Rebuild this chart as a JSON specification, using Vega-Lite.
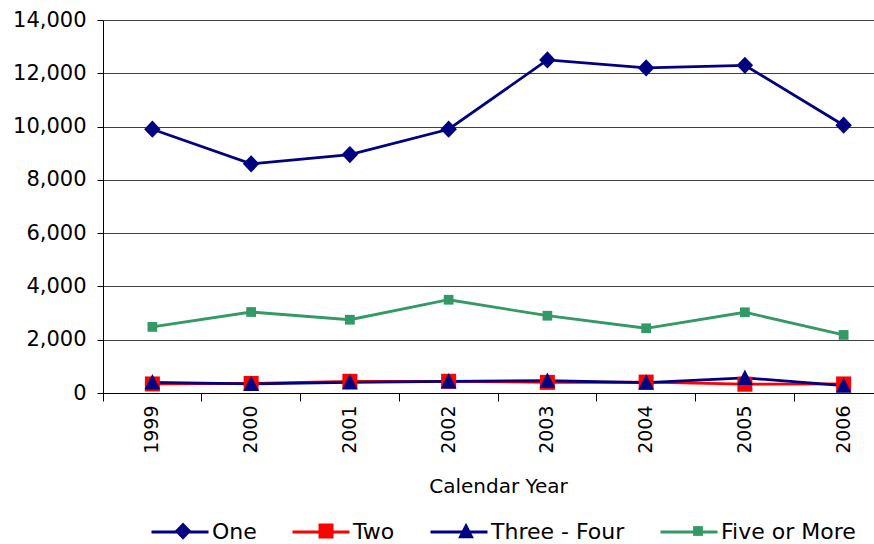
{
  "$schema": "https://vega.github.io/schema/vega-lite/v6.json",
  "width": 771,
  "height": 373,
  "autosize": "none",
  "padding": {"left": 103, "top": 20, "right": 0, "bottom": 151},
  "background": "white",
  "config": {"view": {"stroke": null}, "font": "DejaVu Sans"},
  "data": {"values": [
    {"year": "1999", "series": "One", "value": 9900},
    {"year": "2000", "series": "One", "value": 8600},
    {"year": "2001", "series": "One", "value": 8950},
    {"year": "2002", "series": "One", "value": 9900},
    {"year": "2003", "series": "One", "value": 12500},
    {"year": "2004", "series": "One", "value": 12200},
    {"year": "2005", "series": "One", "value": 12300},
    {"year": "2006", "series": "One", "value": 10050},
    {"year": "1999", "series": "Two", "value": 340},
    {"year": "2000", "series": "Two", "value": 360},
    {"year": "2001", "series": "Two", "value": 440},
    {"year": "2002", "series": "Two", "value": 440},
    {"year": "2003", "series": "Two", "value": 400},
    {"year": "2004", "series": "Two", "value": 410},
    {"year": "2005", "series": "Two", "value": 330},
    {"year": "2006", "series": "Two", "value": 340},
    {"year": "1999", "series": "Three - Four", "value": 400},
    {"year": "2000", "series": "Three - Four", "value": 340},
    {"year": "2001", "series": "Three - Four", "value": 400},
    {"year": "2002", "series": "Three - Four", "value": 440},
    {"year": "2003", "series": "Three - Four", "value": 460},
    {"year": "2004", "series": "Three - Four", "value": 390},
    {"year": "2005", "series": "Three - Four", "value": 570},
    {"year": "2006", "series": "Three - Four", "value": 275},
    {"year": "1999", "series": "Five or More", "value": 2480},
    {"year": "2000", "series": "Five or More", "value": 3040},
    {"year": "2001", "series": "Five or More", "value": 2750},
    {"year": "2002", "series": "Five or More", "value": 3500},
    {"year": "2003", "series": "Five or More", "value": 2900},
    {"year": "2004", "series": "Five or More", "value": 2430},
    {"year": "2005", "series": "Five or More", "value": 3030},
    {"year": "2006", "series": "Five or More", "value": 2180}
  ]},
  "transform": [{"calculate": "datum.series", "as": "Series"}],
  "encoding": {
    "x": {
      "field": "year", "type": "ordinal",
      "scale": {"type": "band", "range": [0, 790], "paddingInner": 0, "paddingOuter": 0},
      "axis": {
        "bandPosition": 0, "labelOffset": 0, "labelAngle": 270, "labelAlign": "right", "labelBaseline": "middle",
        "labelFontSize": 19, "labelColor": "black", "labelPadding": 4, "tickSize": 8, "tickColor": "black",
        "domainColor": "black", "domainWidth": 1, "grid": false,
        "title": "Calendar Year", "titleFontSize": 20, "titleFontWeight": "normal", "titleColor": "black", "titlePadding": 23
      }
    },
    "y": {
      "field": "value", "type": "quantitative",
      "scale": {"domain": [0, 14000], "nice": false},
      "axis": {
        "values": [0, 2000, 4000, 6000, 8000, 10000, 12000, 14000], "format": ",d",
        "labelFontSize": 21, "labelColor": "black", "labelPadding": 11, "tickSize": 6, "tickColor": "black",
        "domainColor": "black", "grid": true, "gridColor": "#404040", "gridWidth": 1, "title": null
      }
    }
  },
  "layer": [
    {
      "mark": {"type": "line", "strokeWidth": 2.8},
      "encoding": {
        "color": {
          "field": "series", "type": "nominal",
          "sort": ["One", "Two", "Three - Four", "Five or More"],
          "scale": {"range": ["#000080", "#FF0000", "#000080", "#339966"]},
          "legend": {
            "orient": "none", "direction": "horizontal", "legendX": 47, "legendY": 482, "title": null,
            "symbolType": "stroke", "symbolSize": 3249, "symbolStrokeWidth": 3,
            "labelFontSize": 22, "labelColor": "black", "labelOffset": 2, "columnPadding": 29
          }
        }
      }
    },
    {
      "mark": {"type": "point", "filled": true, "size": 225, "opacity": 1, "strokeWidth": 0},
      "encoding": {
        "shape": {
          "field": "Series", "type": "nominal",
          "scale": {"domain": ["One", "Two", "Three - Four", "Five or More"], "range": ["M0,-1.15L1.1,0L0,1.15L-1.1,0Z", "M-1,-1H1V1H-1Z", "M0,-1.1L1.05,0.95L-1.05,0.95Z", "M-0.65,-0.65H0.65V0.65H-0.65Z"]},
          "legend": {
            "orient": "none", "direction": "horizontal", "legendX": 69, "legendY": 500, "title": null,
            "symbolSize": 225, "symbolStrokeWidth": 0,
            "labelFontSize": 22, "labelOpacity": 0, "labelOffset": 47, "columnPadding": 29
          }
        },
        "fill": {
          "field": "Series", "type": "nominal",
          "scale": {"domain": ["One", "Two", "Three - Four", "Five or More"], "range": ["#000080", "#FF0000", "#000080", "#339966"]}
        }
      }
    }
  ]
}
